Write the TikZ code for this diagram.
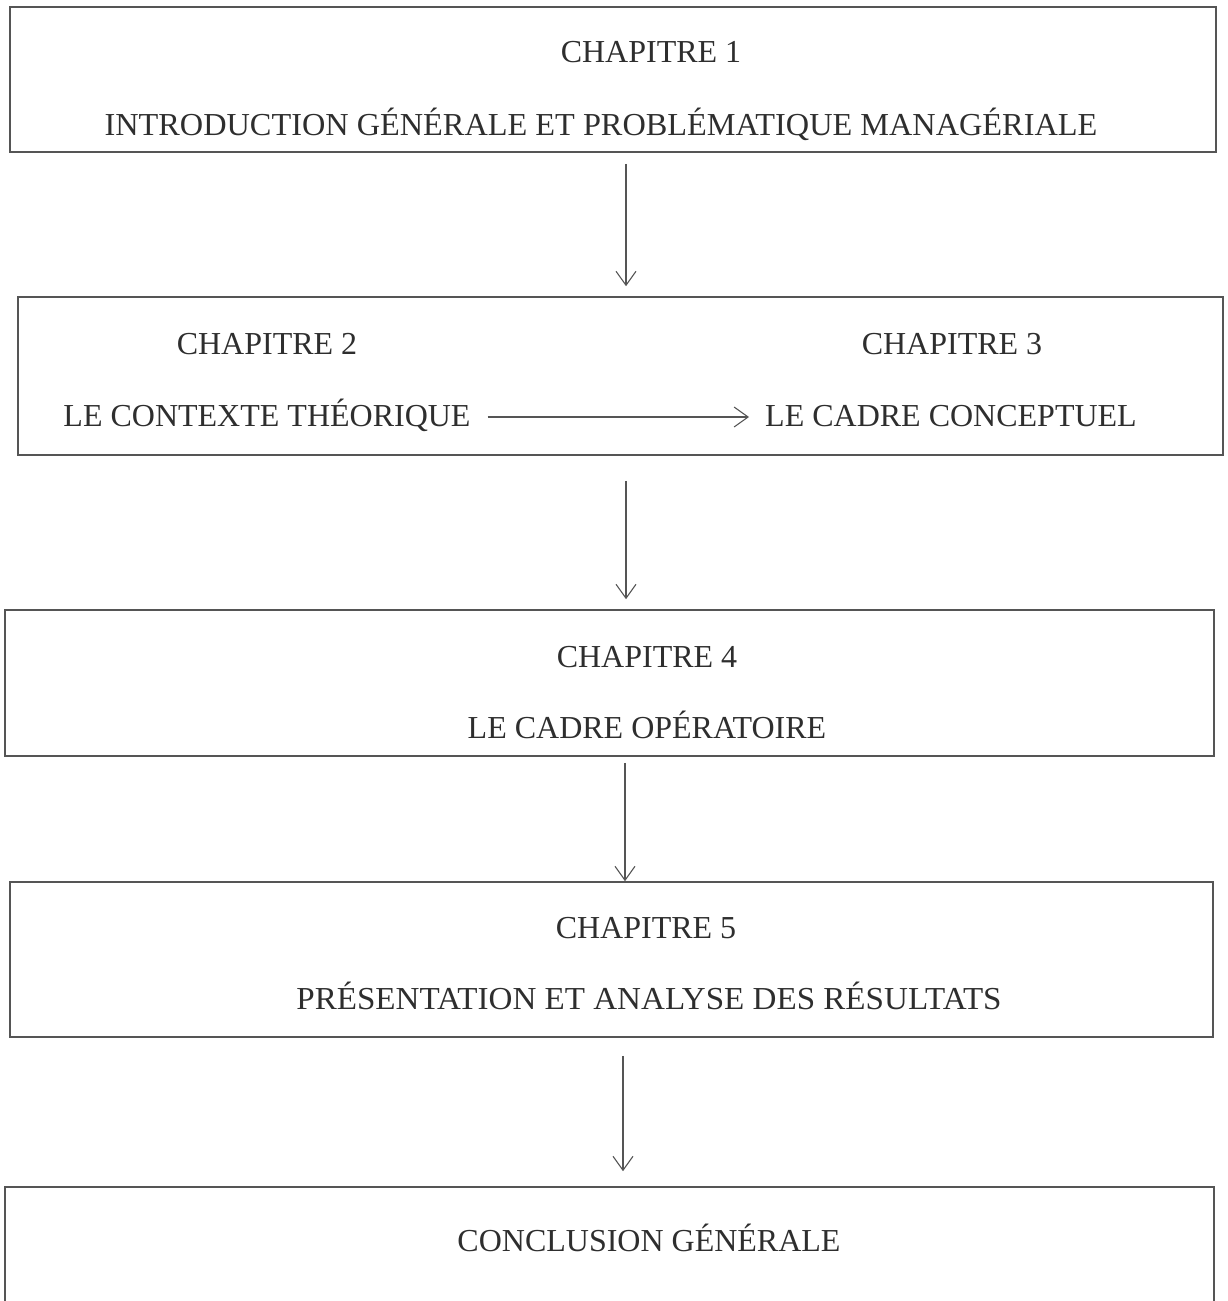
\documentclass[tikz,border=0pt]{standalone}
\usepackage{fontspec}
\setmainfont{Liberation Serif}
\usetikzlibrary{arrows.meta}
\definecolor{ink}{HTML}{2E2E2E}
\definecolor{rule}{HTML}{555555}
\begin{document}
\begin{tikzpicture}[x=1pt,y=-1pt,
  frame/.style={draw=rule,line width=1.6pt,inner sep=0pt},
  label/.style={anchor=base,inner sep=0pt,text=ink,font=\fontsize{32}{36}\selectfont},
  flow/.style={draw=rule,line width=1.2pt,-{Straight Barb[length=14pt,width=20pt,line width=1.1pt]}}]
\useasboundingbox (0,0) rectangle (1227,1301);
% chapter boxes
\node[frame,minimum width=1206pt,minimum height=145pt] (b1) at (613,79.5) {};
\node[frame,minimum width=1205pt,minimum height=158pt] (b2) at (620.5,376) {};
\node[frame,minimum width=1209pt,minimum height=146pt] (b3) at (609.5,683) {};
\node[frame,minimum width=1203pt,minimum height=155pt] (b4) at (611.5,959.5) {};
\node[frame,minimum width=1209pt,minimum height=118pt] (b5) at (609.5,1246) {};
% texts
\node[label] (c1) at (651,62) {CHAPITRE 1};
\node[label] (t1) at (601,135) {\scalebox{1.01}[1]{INTRODUCTION GÉNÉRALE ET PROBLÉMATIQUE MANAGÉRIALE}};
\node[label] (c2) at (267,354) {CHAPITRE 2};
\node[label] (t2) at (267,426) {LE CONTEXTE THÉORIQUE};
\node[label] (c3) at (952,354) {CHAPITRE 3};
\node[label] (t3) at (951,426) {LE CADRE CONCEPTUEL};
\node[label] (c4) at (647,667) {CHAPITRE 4};
\node[label] (t4) at (647,738) {LE CADRE OPÉRATOIRE};
\node[label] (c5) at (646,938) {CHAPITRE 5};
\node[label] (t5) at (649,1009) {\scalebox{1.034}[1]{PRÉSENTATION ET ANALYSE DES RÉSULTATS}};
\node[label] (t6) at (649,1251) {CONCLUSION GÉNÉRALE};
% arrow columns
\coordinate (ka) at (626,0);
\coordinate (kb) at (626,0);
\coordinate (kc) at (625,0);
\coordinate (kd) at (623,0);
\coordinate (ke) at (0,417);
% connectors
\draw[flow,shorten <=11pt,shorten >=10pt] (b1.south -| ka) -- (b2.north -| ka);
\draw[flow,shorten <=25pt,shorten >=10pt] (b2.south -| kb) -- (b3.north -| kb);
\draw[flow,shorten <=6pt] (b3.south -| kc) -- (b4.north -| kc);
\draw[flow,shorten <=18pt,shorten >=15pt] (b4.south -| kd) -- (b5.north -| kd);
\draw[flow,shorten <=17pt,shorten >=16pt] (t2.east |- ke) -- (t3.west |- ke);
\end{tikzpicture}
\end{document}
